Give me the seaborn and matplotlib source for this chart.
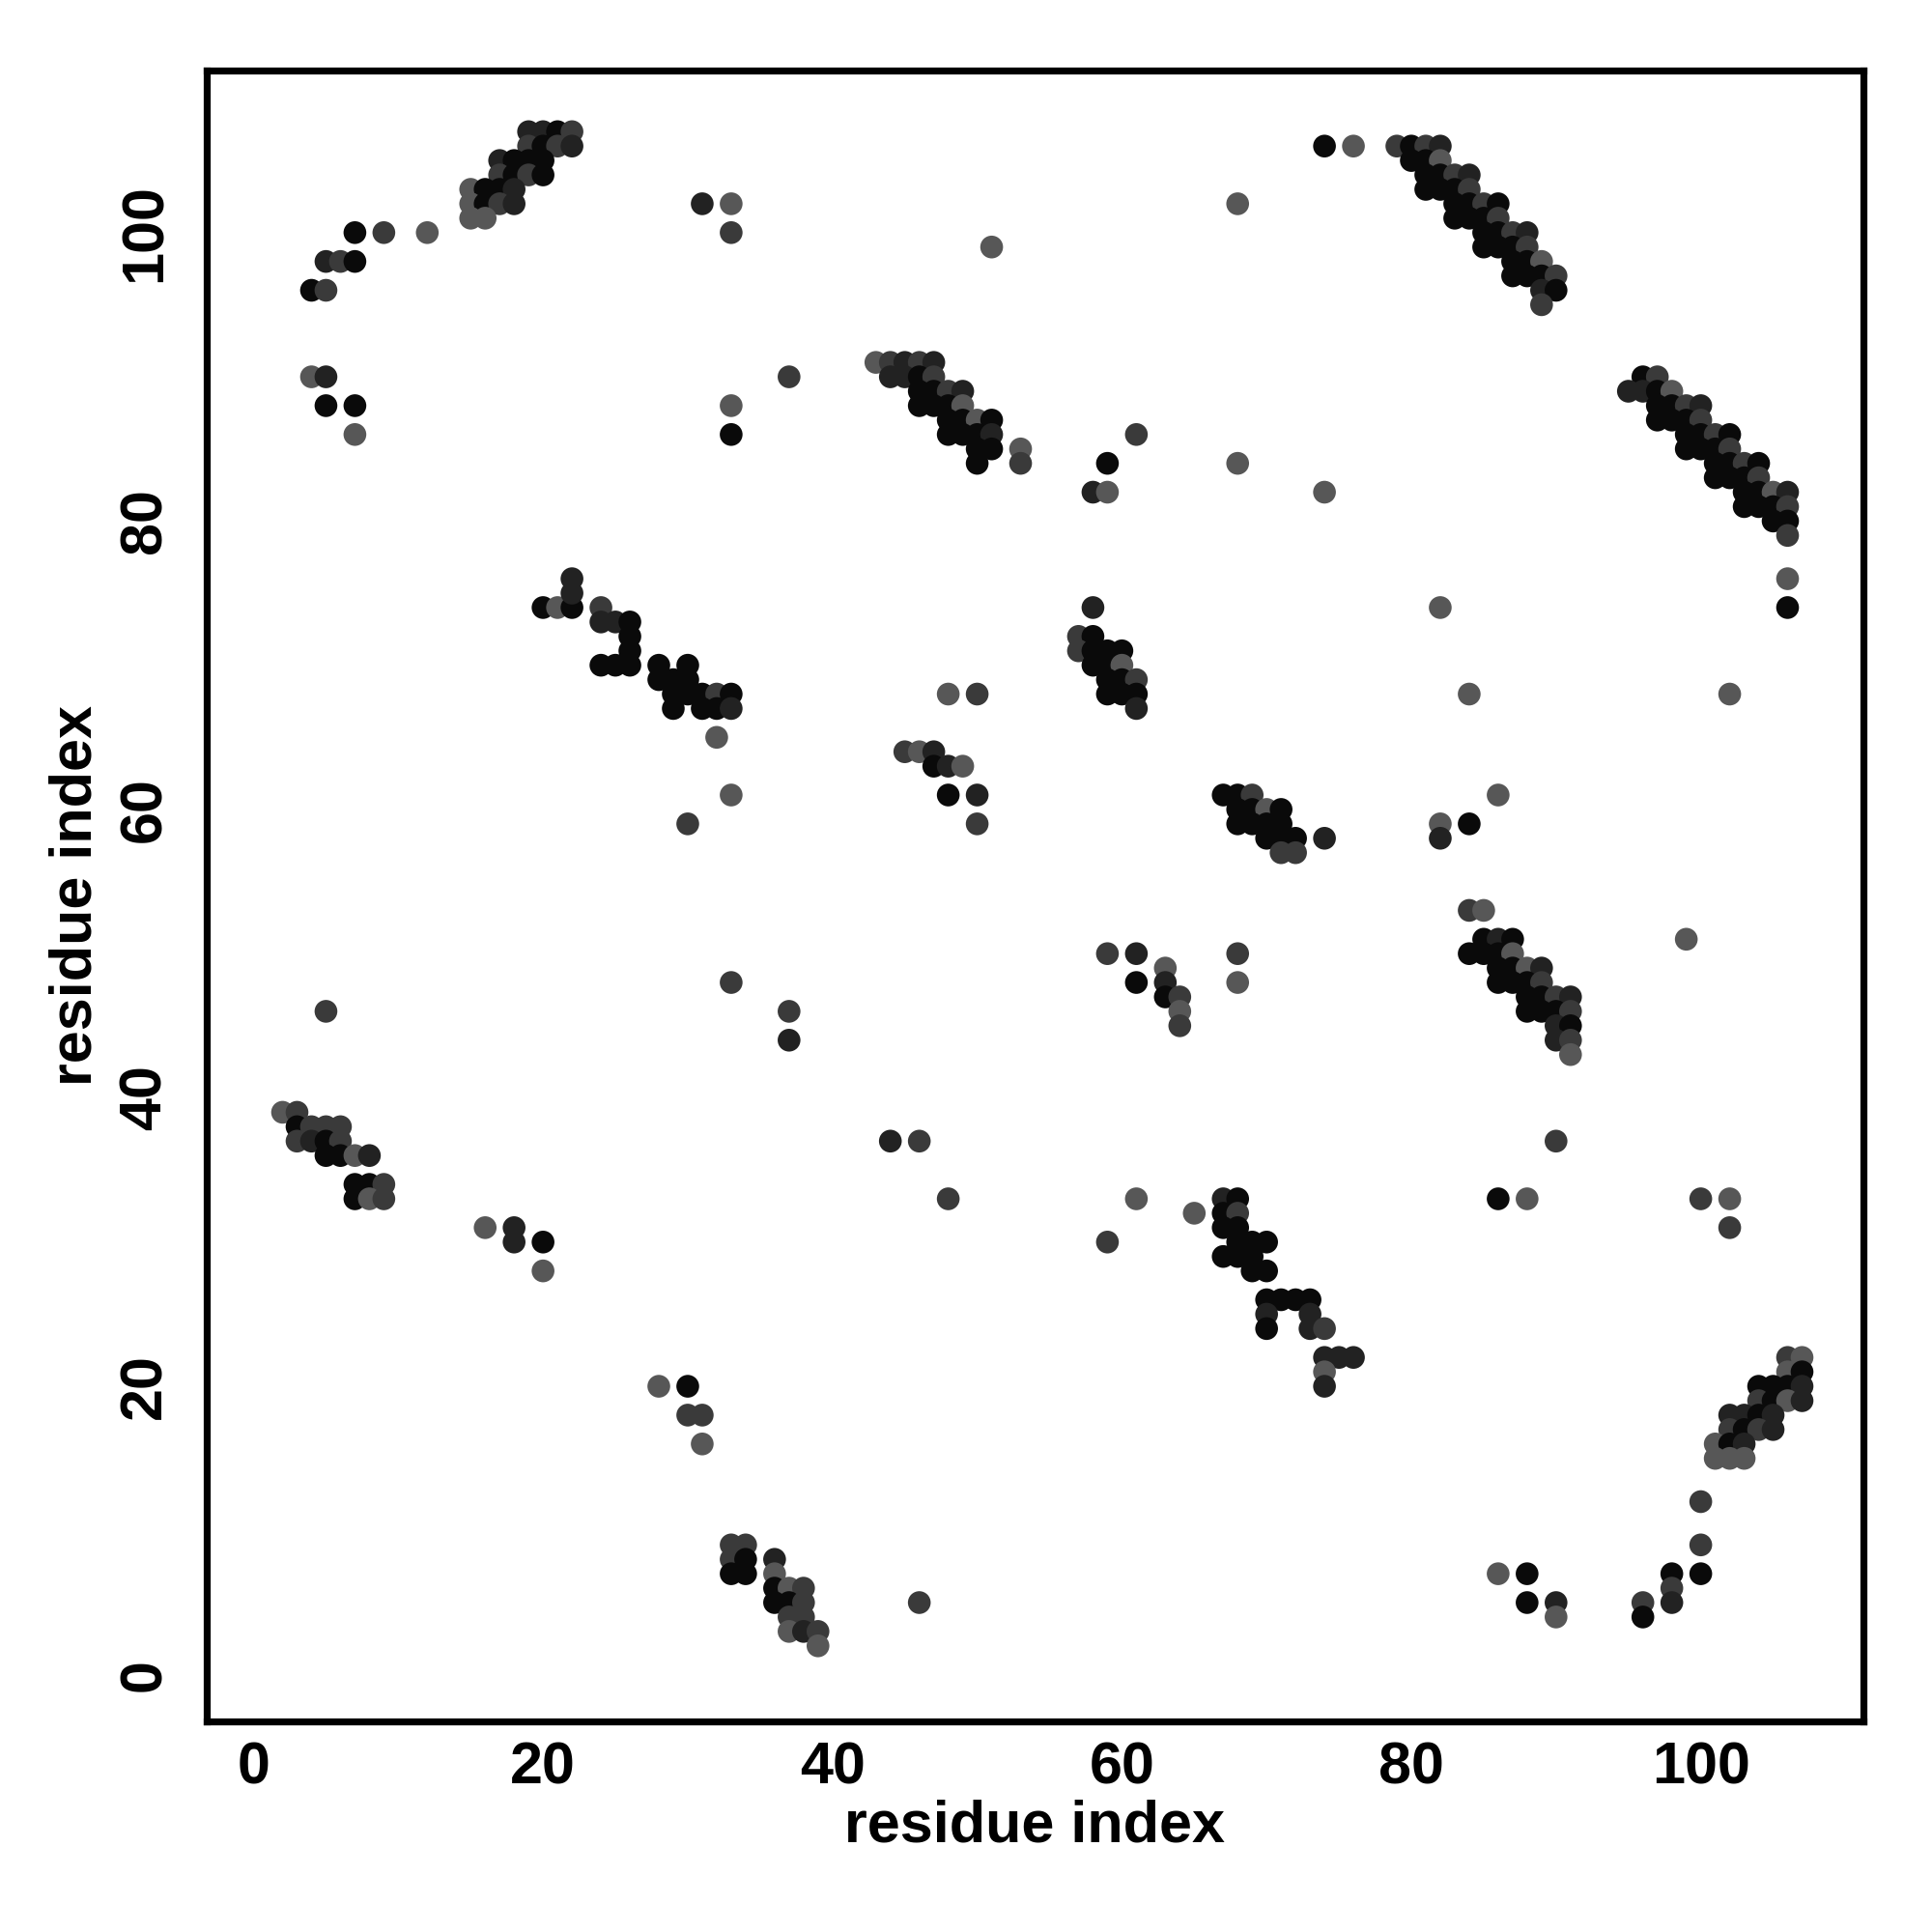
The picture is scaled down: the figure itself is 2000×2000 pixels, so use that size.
import pandas as pd
import matplotlib.pyplot as plt
import seaborn as sns

# contacts as (residue i, residue j, tone); tone 0 = darkest ... 3 = lightest
strand_top_left = [
    (19, 107, 1), (20, 107, 1), (21, 107, 0), (22, 107, 2),
    (19, 106, 2), (20, 106, 0), (21, 106, 2), (22, 106, 1),
    (17, 105, 1), (18, 105, 0), (19, 105, 0), (20, 105, 0),
    (17, 104, 2), (18, 104, 0), (19, 104, 2), (20, 104, 0),
    (15, 103, 3), (16, 103, 0), (17, 103, 0), (18, 103, 1),
    (15, 102, 3), (16, 102, 0), (17, 102, 2), (18, 102, 1),
    (15, 101, 3), (16, 101, 3),
    (7, 100, 0), (9, 100, 2), (12, 100, 3),
    (5, 98, 1), (6, 98, 2), (7, 98, 0),
    (4, 96, 0), (5, 96, 2),
    (4, 90, 3), (5, 90, 1), (5, 88, 0), (7, 88, 0), (7, 86, 3),
]

strand_40s_80s = [
    (31, 102, 1), (33, 102, 3), (33, 100, 2), (51, 99, 3),
    (43, 91, 3), (44, 91, 2), (45, 91, 1), (46, 91, 2), (47, 91, 1),
    (37, 90, 2), (44, 90, 1), (45, 90, 1), (46, 90, 0), (47, 90, 2),
    (46, 89, 0), (47, 89, 0), (48, 89, 2), (49, 89, 1),
    (33, 88, 3), (46, 88, 0), (47, 88, 0), (48, 88, 0), (49, 88, 3),
    (48, 87, 0), (49, 87, 0), (50, 87, 3), (51, 87, 0),
    (33, 86, 0), (48, 86, 0), (49, 86, 0), (50, 86, 0), (51, 86, 1),
    (50, 85, 0), (51, 85, 0), (53, 85, 3),
    (50, 84, 0), (53, 84, 2),
]

scatter_top_mid = [
    (74, 106, 0), (76, 106, 3), (68, 102, 3), (61, 86, 2), (59, 84, 0),
    (68, 84, 3), (58, 82, 1), (59, 82, 3), (74, 82, 3), (58, 74, 1), (82, 74, 3),
]

strand_top_right = [
    (79, 106, 2), (80, 106, 0), (81, 106, 2), (82, 106, 1),
    (80, 105, 0), (81, 105, 0), (82, 105, 3),
    (81, 104, 0), (82, 104, 0), (83, 104, 2), (84, 104, 1),
    (81, 103, 0), (82, 103, 0), (83, 103, 0), (84, 103, 2),
    (83, 102, 0), (84, 102, 0), (85, 102, 2), (86, 102, 0),
    (83, 101, 0), (84, 101, 0), (85, 101, 0), (86, 101, 2),
    (85, 100, 0), (86, 100, 0), (87, 100, 2), (88, 100, 1),
    (85, 99, 0), (86, 99, 0), (87, 99, 0), (88, 99, 2),
    (87, 98, 0), (88, 98, 0), (89, 98, 3),
    (87, 97, 0), (88, 97, 0), (89, 97, 0), (90, 97, 2),
    (89, 96, 1), (90, 96, 0), (89, 95, 2),
]

strand_right = [
    (96, 90, 0), (97, 90, 2),
    (95, 89, 1), (96, 89, 1), (97, 89, 0), (98, 89, 3),
    (97, 88, 0), (98, 88, 0), (99, 88, 2), (100, 88, 1),
    (97, 87, 0), (98, 87, 0), (99, 87, 0), (100, 87, 2),
    (99, 86, 0), (100, 86, 0), (101, 86, 2), (102, 86, 0),
    (99, 85, 0), (100, 85, 0), (101, 85, 0), (102, 85, 2),
    (101, 84, 0), (102, 84, 0), (103, 84, 2), (104, 84, 0),
    (101, 83, 0), (102, 83, 0), (103, 83, 0), (104, 83, 2),
    (103, 82, 0), (104, 82, 0), (105, 82, 3), (106, 82, 1),
    (103, 81, 0), (104, 81, 0), (105, 81, 0), (106, 81, 2),
    (105, 80, 0), (106, 80, 0), (106, 79, 2), (106, 76, 3), (106, 74, 0),
]

block_left = [
    (20, 74, 0), (21, 74, 3), (22, 74, 0), (22, 75, 1), (22, 76, 1),
    (24, 74, 2), (24, 73, 1), (25, 73, 1), (26, 73, 0), (26, 72, 0),
    (26, 71, 0), (24, 70, 0), (25, 70, 0), (26, 70, 0),
    (28, 70, 0), (30, 70, 0),
    (28, 69, 0), (29, 69, 0), (30, 69, 0),
    (29, 68, 0), (30, 68, 0), (31, 68, 0), (32, 68, 2), (33, 68, 0),
    (29, 67, 0), (31, 67, 0), (32, 67, 0), (33, 67, 1),
    (32, 65, 3), (33, 61, 3), (30, 59, 2), (33, 48, 2), (37, 46, 2),
    (37, 44, 1), (44, 37, 1), (46, 37, 2),
    (48, 68, 3), (50, 68, 2),
    (45, 64, 2), (46, 64, 3), (47, 64, 1),
    (47, 63, 0), (48, 63, 1), (49, 63, 3),
    (48, 61, 0), (50, 61, 1), (50, 59, 2),
]

block_mid = [
    (57, 72, 2), (58, 72, 0),
    (57, 71, 2), (58, 71, 0), (59, 71, 0), (60, 71, 0),
    (58, 70, 0), (59, 70, 0), (60, 70, 3),
    (59, 69, 0), (60, 69, 0), (61, 69, 2),
    (59, 68, 0), (60, 68, 0), (61, 68, 0), (61, 67, 1),
    (67, 61, 0), (68, 61, 0), (69, 61, 2),
    (68, 60, 0), (69, 60, 0), (70, 60, 3), (71, 60, 0),
    (68, 59, 0), (69, 59, 0), (70, 59, 0), (71, 59, 0),
    (70, 58, 0), (71, 58, 0), (72, 58, 0), (74, 58, 1),
    (71, 57, 2), (72, 57, 2), (82, 59, 3), (82, 58, 1),
    (59, 50, 2), (61, 50, 1), (68, 50, 2), (63, 49, 3), (61, 48, 0),
    (63, 48, 1), (68, 48, 3), (63, 47, 0), (64, 47, 2), (64, 46, 3), (64, 45, 2),
]

block_right = [
    (84, 68, 3), (102, 68, 3), (86, 61, 3), (84, 59, 0),
    (84, 53, 2), (85, 53, 3),
    (85, 51, 0), (86, 51, 1), (87, 51, 0), (99, 51, 3),
    (84, 50, 0), (85, 50, 0), (86, 50, 0), (87, 50, 3),
    (86, 49, 0), (87, 49, 0), (88, 49, 3), (89, 49, 1),
    (86, 48, 0), (87, 48, 0), (88, 48, 0), (89, 48, 2),
    (88, 47, 0), (89, 47, 0), (90, 47, 2), (91, 47, 1),
    (88, 46, 0), (89, 46, 0), (90, 46, 0), (91, 46, 2),
    (90, 45, 1), (91, 45, 0), (90, 44, 1), (91, 44, 2), (91, 43, 3),
    (90, 37, 2),
]

strand_low_left = [
    (5, 46, 2),
    (2, 39, 3), (3, 39, 2),
    (3, 38, 0), (4, 38, 2), (5, 38, 2), (6, 38, 2),
    (3, 37, 2), (4, 37, 1), (5, 37, 0), (6, 37, 2),
    (5, 36, 0), (6, 36, 0), (7, 36, 3), (8, 36, 1),
    (7, 34, 0), (8, 34, 0), (9, 34, 2),
    (7, 33, 0), (8, 33, 3), (9, 33, 2),
    (16, 31, 3), (18, 31, 1), (18, 30, 1), (20, 30, 0), (20, 28, 3),
    (48, 33, 2), (28, 20, 3), (30, 20, 0), (30, 18, 2), (31, 18, 2), (31, 16, 3),
    (33, 9, 2), (34, 9, 2), (33, 8, 2), (34, 8, 0), (33, 7, 0), (34, 7, 0),
    (36, 8, 1), (36, 7, 3), (36, 6, 0), (37, 6, 3), (38, 6, 2),
    (36, 5, 0), (37, 5, 0), (38, 5, 2), (37, 4, 2), (38, 4, 2),
    (37, 3, 3), (38, 3, 1), (39, 3, 2), (39, 2, 3), (46, 5, 2),
]

strand_low_mid = [
    (61, 33, 3), (67, 33, 1), (68, 33, 0), (65, 32, 3), (67, 32, 0), (68, 32, 2),
    (67, 31, 0), (68, 31, 0), (59, 30, 2), (68, 30, 0), (69, 30, 0), (70, 30, 0),
    (67, 29, 0), (68, 29, 0), (69, 29, 0), (69, 28, 0), (70, 28, 0),
    (70, 26, 0), (71, 26, 0), (72, 26, 0), (73, 26, 0),
    (70, 25, 1), (73, 25, 1), (70, 24, 0), (73, 24, 1), (74, 24, 2),
    (74, 22, 1), (75, 22, 1), (76, 22, 1), (74, 21, 3), (74, 20, 1),
]

strand_low_right = [
    (86, 33, 0), (88, 33, 3), (100, 33, 2), (102, 33, 3), (102, 31, 2),
    (106, 22, 2), (107, 22, 3), (106, 21, 3), (107, 21, 0),
    (104, 20, 0), (105, 20, 0), (106, 20, 0), (107, 20, 1),
    (104, 19, 2), (105, 19, 0), (106, 19, 3), (107, 19, 1),
    (102, 18, 1), (103, 18, 1), (104, 18, 0), (105, 18, 1),
    (102, 17, 2), (103, 17, 0), (104, 17, 2), (105, 17, 1),
    (101, 16, 3), (102, 16, 0), (103, 16, 1),
    (101, 15, 3), (102, 15, 3), (103, 15, 3),
    (100, 12, 2), (100, 9, 2),
    (86, 7, 3), (88, 7, 0), (98, 7, 0), (100, 7, 0), (98, 6, 2),
    (88, 5, 0), (90, 5, 1), (96, 5, 2), (98, 5, 1), (90, 4, 3), (96, 4, 0),
]

tone_colors = {0: '#0a0a0a', 1: '#222222', 2: '#3a3a3a', 3: '#575757'}

groups = [strand_top_left, strand_40s_80s, scatter_top_mid, strand_top_right,
          strand_right, block_left, block_mid, block_right,
          strand_low_left, strand_low_mid, strand_low_right]
contacts = pd.DataFrame([p for g in groups for p in g], columns=['i', 'j', 'tone'])

sns.set_style('white')
plt.rcParams['font.family'] = ['Liberation Sans', 'DejaVu Sans']
plt.rcParams['font.weight'] = 'bold'
plt.rcParams['text.color'] = 'black'
plt.rcParams['axes.labelcolor'] = 'black'

fig = plt.figure(figsize=(10, 10), dpi=200)
ax = fig.add_axes([0.107, 0.109, 0.8575, 0.8545])

sns.scatterplot(data=contacts, x='i', y='j', hue='tone', palette=tone_colors,
                s=72, linewidth=0, legend=False, ax=ax)

ax.set_xlim(-3.24, 111.24)
ax.set_ylim(-3.24, 111.24)
ax.set_xticks([0, 20, 40, 60, 80, 100])
ax.set_yticks([0, 20, 40, 60, 80, 100])

for side in ax.spines.values():
    side.set_linewidth(2.6)
    side.set_color('black')

ax.tick_params(axis='both', direction='out', length=4.5, width=1.5,
               labelsize=22, colors='black')
ax.tick_params(axis='x', pad=3)
ax.tick_params(axis='y', pad=8, labelrotation=90)
for lab in ax.get_yticklabels():
    lab.set_verticalalignment('center')

ax.set_xlabel('residue index', fontsize=22, fontweight='bold', va='center', color='black')
ax.set_ylabel('residue index', fontsize=22, fontweight='bold', va='center', color='black')
ax.xaxis.set_label_coords(0.5, -0.064)
ax.yaxis.set_label_coords(-0.079, 0.5)

fig.savefig('out.png', dpi=200, facecolor='white')
